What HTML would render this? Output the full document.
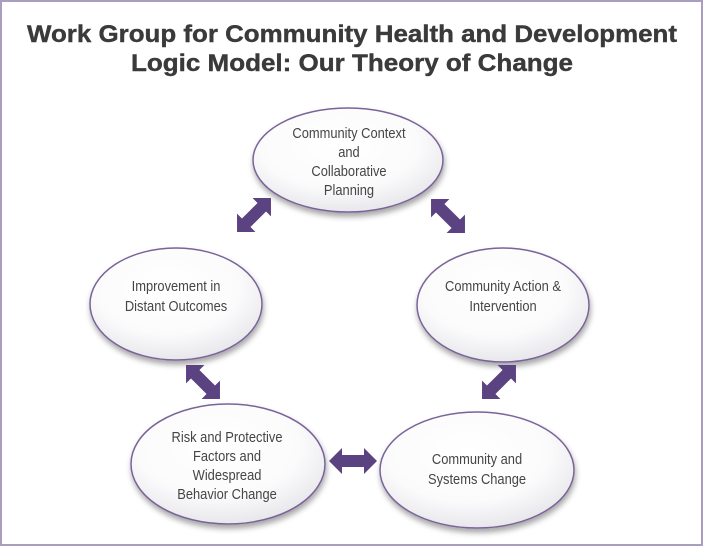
<!DOCTYPE html>
<html><head><meta charset="utf-8"><style>
html,body{margin:0;padding:0;background:#fff;}
svg{display:block;}
text{font-family:"Liberation Sans",sans-serif;}
</style></head><body>
<svg width="703" height="546" viewBox="0 0 703 546" xmlns="http://www.w3.org/2000/svg">
<defs>
<radialGradient id="g" cx="0.45" cy="0.35" r="0.7">
<stop offset="0" stop-color="#ffffff"/><stop offset="0.6" stop-color="#fbfbfc"/><stop offset="1" stop-color="#e4e3e8"/>
</radialGradient>
<filter id="s" x="-20%" y="-20%" width="140%" height="150%"><feDropShadow dx="1" dy="4" stdDeviation="3" flood-color="#000" flood-opacity="0.35"/></filter>
<path id="da" d="M-24,0 L-11,-13 L-11,-6 L11,-6 L11,-13 L24,0 L11,13 L11,6 L-11,6 L-11,13 Z" fill="#5b4280"/>
</defs>
<rect x="1" y="1" width="701" height="544" fill="#fff" stroke="#a99ebf" stroke-width="2"/>
<g font-weight="bold" font-size="24" fill="#3a3a3a" text-anchor="middle" stroke="#3a3a3a" stroke-width="0.4">
<text x="352" y="42" textLength="650" lengthAdjust="spacingAndGlyphs">Work Group for Community Health and Development</text>
<text x="352" y="71" textLength="442" lengthAdjust="spacingAndGlyphs">Logic Model: Our Theory of Change</text>
</g>
<g fill="url(#g)" stroke="#7a6399" stroke-width="1.5" filter="url(#s)">
<ellipse cx="348" cy="160" rx="95" ry="52"/>
<ellipse cx="176" cy="304" rx="86" ry="56"/>
<ellipse cx="503" cy="305" rx="86" ry="57"/>
<ellipse cx="228" cy="464" rx="97" ry="60"/>
<ellipse cx="477" cy="470" rx="97" ry="58"/>
</g>
<use href="#da" transform="translate(254,215) rotate(-45)"/>
<use href="#da" transform="translate(448,216) rotate(45)"/>
<use href="#da" transform="translate(499,382) rotate(-45)"/>
<use href="#da" transform="translate(203,382) rotate(45)"/>
<use href="#da" transform="translate(353,461)"/>
<g font-size="15" fill="#454545" text-anchor="middle" transform="scale(0.86,1)">
<text x="405.8" y="138">Community Context</text>
<text x="405.8" y="157">and</text>
<text x="405.8" y="176">Collaborative</text>
<text x="405.8" y="195">Planning</text>
<text x="204.7" y="291">Improvement in</text>
<text x="204.7" y="311">Distant Outcomes</text>
<text x="584.9" y="291">Community Action &amp;</text>
<text x="584.9" y="311">Intervention</text>
<text x="264" y="442">Risk and Protective</text>
<text x="264" y="461">Factors and</text>
<text x="264" y="480">Widespread</text>
<text x="264" y="499">Behavior Change</text>
<text x="554.7" y="464">Community and</text>
<text x="554.7" y="484">Systems Change</text>
</g>
</svg>
</body></html>
